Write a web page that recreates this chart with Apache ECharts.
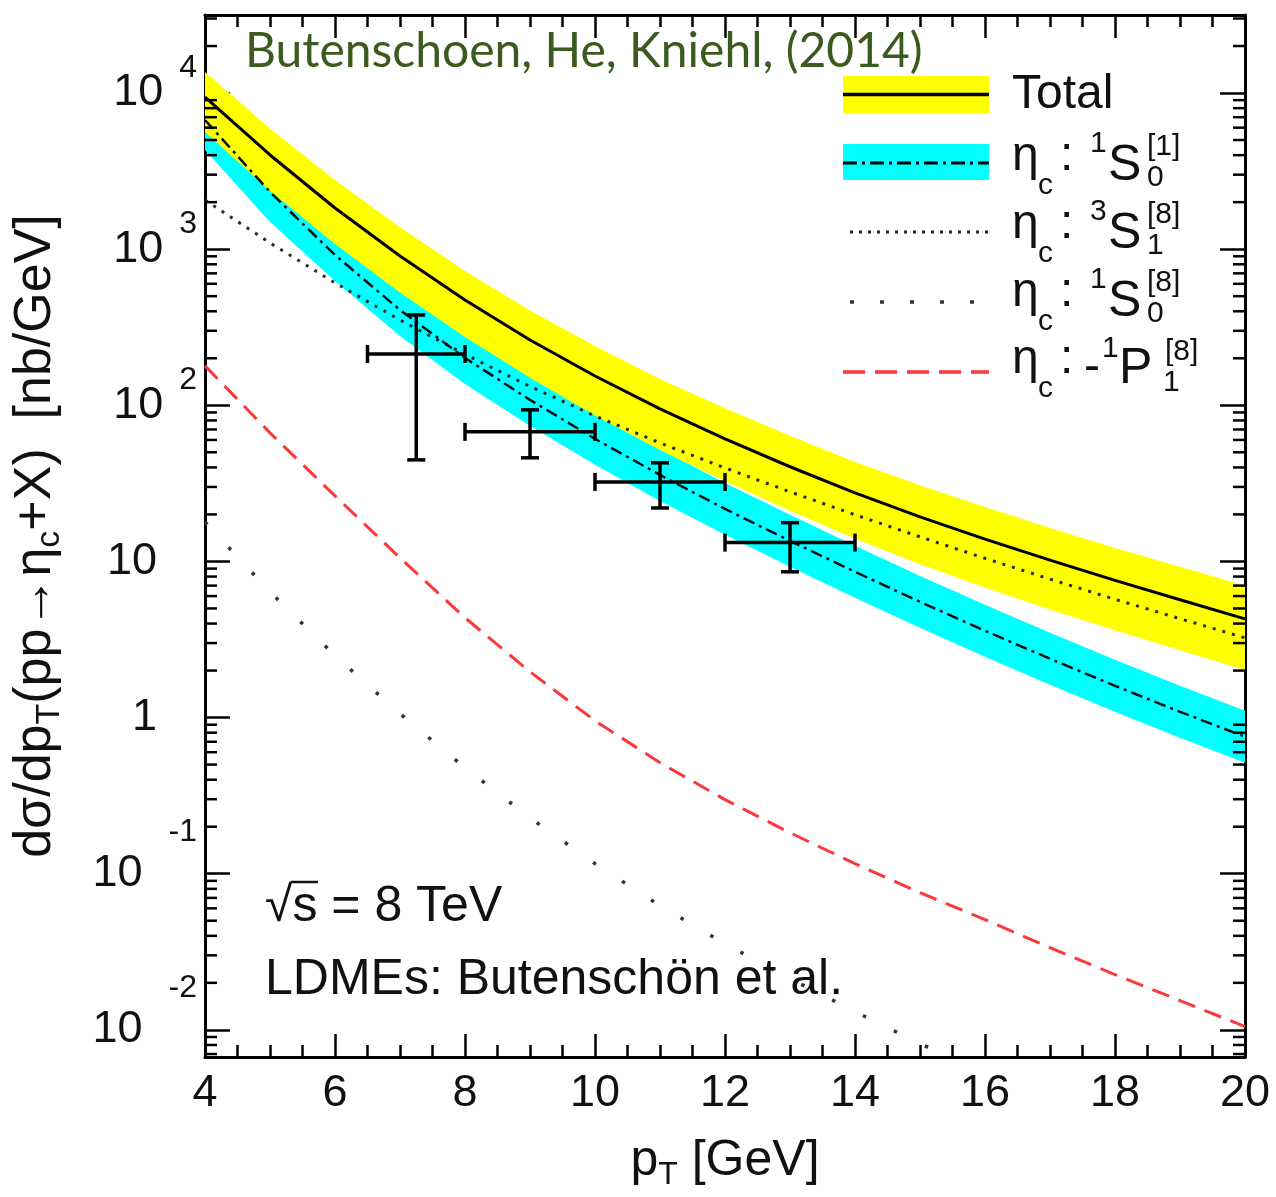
<!DOCTYPE html>
<html>
<head>
<meta charset="utf-8">
<title>eta_c production at 8 TeV</title>
<script src="https://cdn.jsdelivr.net/npm/echarts@6/dist/echarts.min.js"></script>
<style>
  html, body { margin: 0; padding: 0; background: #ffffff; }
  #chart { width: 1276px; height: 1197px; }
</style>
</head>
<body>
<div id="chart"></div>
<script>
// transverse-momentum grid [GeV]
const pT = [4, 5, 6, 7, 8, 9, 10, 11, 12, 13, 14, 15, 16, 17, 18, 19, 20];

// total NRQCD prediction and its uncertainty band [nb/GeV]
const totalCentral = [9420, 4010, 1835, 905, 473, 262, 154, 94.8, 61.0, 40.4, 27.5, 19.3, 13.9, 10.2, 7.57, 5.68, 4.29];
const totalUpper   = [13610, 5930, 2770, 1380, 725, 405, 240, 147.5, 95.6, 63.8, 43.4, 30.7, 22.3, 16.35, 12.2, 9.24, 6.98];
const totalLower   = [5620, 2370, 1080, 528, 274, 150, 86.1, 51.8, 32.6, 21.1, 14.0, 9.58, 6.80, 4.92, 3.62, 2.70, 2.02];

// colour-singlet 1S0[1] channel and its band
const singletCentral = [6714, 2323, 918, 408, 201, 108.3, 61.0, 35.8, 21.7, 13.55, 8.58, 5.51, 3.595, 2.38, 1.598, 1.089, 0.754];
const singletUpper   = [9850, 3410, 1347, 598, 295, 158.9, 89.5, 52.5, 31.8, 19.9, 12.59, 8.08, 5.27, 3.49, 2.344, 1.598, 1.106];
const singletLower   = [4317, 1494, 626, 278, 137, 73.9, 41.6, 24.4, 14.8, 9.24, 5.85, 3.76, 2.45, 1.62, 1.09, 0.743, 0.514];

// colour-octet channels
const octet3S1    = [2065, 1096, 608, 352, 212, 132.1, 85.5, 57.4, 39.7, 27.9, 19.9, 14.37, 10.47, 7.70, 5.72, 4.30, 3.24];
const octet1S0Pt  = [4, 5, 6, 7, 8, 9, 10, 11, 12, 13, 14, 15, 16];
const octet1S0    = [17.9, 6.39, 2.49, 1.058, 0.477, 0.228, 0.116, 0.0624, 0.0356, 0.0213, 0.0131, 0.00816, 0.00524];
const octet1P1neg = [178.8, 66.6, 26.3, 10.54, 4.36, 1.965, 0.954, 0.514, 0.298, 0.183, 0.116, 0.0756, 0.0508, 0.0336, 0.0226, 0.0154, 0.0105];

// measured points with bin widths and errors
const dataPt     = [7.25, 9, 11, 13];
const dataPtLow  = [6.5, 8, 10, 12];
const dataPtHigh = [8, 10, 12, 14];
const dataValue  = [213, 67.6, 32.3, 13.2];
const dataLow    = [44.7, 46.1, 22.0, 8.58];
const dataHigh   = [379, 93.5, 42.8, 17.7];

// axis ticks
const xTicks = [4, 6, 8, 10, 12, 14, 16, 18, 20];
const yTickValues = [0.01, 0.1, 1, 10, 100, 1000, 10000];
const yTickBase   = ['10', '10', '1', '10', '10', '10', '10'];
const yTickExp    = ['-2', '-1', '', '', '2', '3', '4'];

const yMin = 0.0067, yMax = 31600;
const FONT = '"Liberation Sans", Arial, Helvetica, sans-serif';
const INK = '#111111';

// minor ticks of the log axis: 2..9 x 10^k
const yMinor = [];
for (let k = -3; k <= 4; k++) {
  for (let m = 2; m <= 9; m++) {
    const v = m * Math.pow(10, k);
    if (v > yMin && v < yMax) yMinor.push(v);
  }
}

const chart = echarts.init(document.getElementById('chart'), null, { renderer: 'canvas' });

function band(name, lower, upper, color, z) {
  return {
    type: 'custom', name: name, z: z, silent: true,
    xAxisIndex: 0, yAxisIndex: 0,
    data: pT.map((x, i) => [x, lower[i], upper[i]]),
    encode: { x: 0, y: [1, 2] },
    renderItem: function (params, api) {
      if (params.dataIndex !== 0) return null;
      const up = pT.map((x, i) => api.coord([x, upper[i]]));
      const lo = pT.map((x, i) => api.coord([x, lower[i]])).reverse();
      return { type: 'polygon', shape: { points: up.concat(lo) }, style: { fill: color, stroke: null } };
    }
  };
}

function curve(name, xs, ys, lineStyle, z) {
  return {
    type: 'line', name: name, z: z, silent: true,
    xAxisIndex: 0, yAxisIndex: 0,
    data: ys.map((v, i) => [xs[i], v]),
    symbol: 'none', showSymbol: false, clip: true,
    lineStyle: Object.assign({ cap: 'butt', join: 'round' }, lineStyle)
  };
}

function txt(text, x, y, size, extra) {
  return {
    type: 'text', z: 100, silent: true,
    style: Object.assign({
      text: text, x: x, y: y, font: size + 'px ' + FONT, fill: INK,
      textAlign: 'left', textVerticalAlign: 'middle', align: 'left', verticalAlign: 'middle'
    }, extra || {})
  };
}
function seg(x1, y1, x2, y2, style) {
  return { type: 'line', z: 100, silent: true, shape: { x1: x1, y1: y1, x2: x2, y2: y2 },
    style: Object.assign({ stroke: '#000', lineWidth: 3 }, style) };
}

// legend entries drawn as graphic elements
const legend = [];
legend.push({ type: 'rect', z: 99, silent: true, shape: { x: 843, y: 76, width: 146, height: 37 }, style: { fill: '#ffff00' } });
legend.push(seg(843, 94.5, 989, 94.5, { lineWidth: 3.5 }));
legend.push({ type: 'rect', z: 99, silent: true, shape: { x: 843, y: 144, width: 146, height: 36 }, style: { fill: '#00ffff' } });
legend.push(seg(843, 163, 989, 163, { lineWidth: 3, lineDash: [14, 5, 3, 5] }));
legend.push(seg(850, 232, 989, 232, { lineWidth: 3, stroke: '#222', lineDash: [3, 6] }));
legend.push(seg(850, 302, 989, 302, { lineWidth: 3.5, stroke: '#333', lineDash: [4, 26] }));
legend.push(seg(843, 372, 989, 372, { lineWidth: 3.5, stroke: '#fa3a3a', lineDash: [22, 10] }));

legend.push(txt('Total', 1012, 95, 48));
const stateRows = [
  { yc: 166, pre: '1', L: 'S', spin: '[1]', sub: '0' },
  { yc: 234, pre: '3', L: 'S', spin: '[8]', sub: '1' },
  { yc: 302, pre: '1', L: 'S', spin: '[8]', sub: '0' }
];
stateRows.forEach(function (r) {
  legend.push(txt('\u03b7', 1012, r.yc - 9, 48));
  legend.push(txt('c', 1038, r.yc + 20, 30));
  legend.push(txt(':', 1060, r.yc - 9, 48));
  legend.push(txt(r.pre, 1090, r.yc - 22, 30));
  legend.push(txt(r.L, 1108, r.yc, 50));
  legend.push(txt(r.spin, 1147, r.yc - 19, 30));
  legend.push(txt(r.sub, 1147, r.yc + 12, 30));
});
(function () {
  const yc = 369;
  legend.push(txt('\u03b7', 1012, yc - 9, 48));
  legend.push(txt('c', 1038, yc + 20, 30));
  legend.push(txt(':', 1060, yc - 9, 48));
  legend.push(txt('-', 1084, yc - 1, 48));
  legend.push(txt('1', 1102, yc - 20, 30));
  legend.push(txt('P', 1119, yc, 50));
  legend.push(txt('[8]', 1165, yc - 17, 30));
  legend.push(txt('1', 1163, yc + 14, 30));
})();

// caption texts
legend.push(txt('Butenschoen, He, Kniehl, (2014)', 245, 52, 48, { font: '48px Lato, "Open Sans", sans-serif', fill: '#3b5a1e' }));
legend.push(txt('\u221as = 8 TeV', 265, 907, 50));
legend.push(seg(291, 882, 318, 882, { lineWidth: 2.5, stroke: INK }));
legend.push(txt('LDMEs: Butensch\u00f6n et al.', 265, 980, 50));

const xAxisCommon = {
  type: 'value', min: 4, max: 20, interval: 2,
  axisLine: { show: true, onZero: false, lineStyle: { color: '#000', width: 3 } },
  axisTick: { show: true, inside: true, length: 23, lineStyle: { color: '#000', width: 2.5 } },
  minorTick: { show: true, splitNumber: 4, length: 12, lineStyle: { color: '#000', width: 2.5 } },
  splitLine: { show: false }, minorSplitLine: { show: false }
};
const yAxisCommon = {
  type: 'log', logBase: 10, min: yMin, max: yMax,
  axisLine: { show: true, onZero: false, lineStyle: { color: '#000', width: 3 } },
  axisTick: { show: true, inside: true, length: 25, lineStyle: { color: '#000', width: 2.5 } },
  splitLine: { show: false }
};

const option = {
  animation: false,
  backgroundColor: '#ffffff',
  grid: { left: 205, top: 15, width: 1040, height: 1042, containLabel: false, outerBoundsMode: 'none' },
  xAxis: [
    Object.assign({}, xAxisCommon, {
      position: 'bottom',
      name: '{a|p}{s|T}{a| [GeV]}', nameLocation: 'middle', nameGap: 74,
      nameTextStyle: {
        rich: {
          a: { fontSize: 50, fontFamily: FONT, color: INK, verticalAlign: 'middle' },
          s: { fontSize: 32, fontFamily: FONT, color: INK, padding: [28, 0, 0, 0], verticalAlign: 'middle' }
        }
      },
      axisLabel: {
        show: true, margin: 14, fontSize: 45, fontFamily: FONT, color: INK,
        formatter: function (v) { return xTicks.indexOf(v) >= 0 ? String(v) : ''; }
      }
    }),
    Object.assign({}, xAxisCommon, { position: 'top', axisLabel: { show: false } })
  ],
  yAxis: [
    Object.assign({}, yAxisCommon, {
      position: 'left',
      name: '{a|d\u03c3/dp}{s|T}{a|(pp\u2192\u03b7}{s|c}{a|+X)  [nb/GeV]}',
      nameLocation: 'middle', nameGap: 138,
      nameTextStyle: {
        rich: {
          a: { fontSize: 52, fontFamily: FONT, color: INK, verticalAlign: 'middle' },
          s: { fontSize: 34, fontFamily: FONT, color: INK, padding: [28, 0, 0, 0], verticalAlign: 'middle' }
        }
      },
      axisLabel: {
        show: true, margin: 8,
        formatter: function (v) {
          const i = yTickValues.findIndex(t => Math.abs(Math.log10(v) - Math.log10(t)) < 1e-6);
          if (i < 0) return '';
          const e = yTickExp[i];
          if (!e) return '{b|' + yTickBase[i] + '}{e| }';
          return '{b|' + yTickBase[i] + '}{' + (e.charAt(0) === '-' ? 'n' : 'p') + '|' + e + '}';
        },
        rich: {
          b: { fontSize: 45, fontFamily: FONT, color: INK, verticalAlign: 'middle' },
          p: { fontSize: 32, fontFamily: FONT, color: INK, padding: [0, 0, 50, 16], verticalAlign: 'middle' },
          n: { fontSize: 32, fontFamily: FONT, color: INK, padding: [0, 0, 84, 26], verticalAlign: 'middle' },
          e: { fontSize: 32, fontFamily: FONT, width: 40, verticalAlign: 'middle' }
        }
      }
    }),
    Object.assign({}, yAxisCommon, { position: 'right', axisLabel: { show: false } })
  ],
  graphic: { elements: legend },
  series: [
    band('1S0[1] band', singletLower, singletUpper, '#00ffff', 1),
    band('total band', totalLower, totalUpper, '#ffff00', 2),
    curve('-1P1[8]', pT, octet1P1neg, { color: '#fa3a3a', width: 3, type: [18, 10] }, 5),
    curve('1S0[8]', octet1S0Pt, octet1S0, { color: '#333333', width: 3.5, type: [3.5, 31] }, 5),
    curve('3S1[8]', pT, octet3S1, { color: '#2a2a2a', width: 3, type: [3, 7] }, 6),
    curve('1S0[1]', pT, singletCentral, { color: '#111111', width: 2.5, type: [12, 5, 3, 5] }, 7),
    curve('Total', pT, totalCentral, { color: '#000000', width: 3, type: 'solid' }, 8),
    {
      type: 'custom', name: 'data', z: 10, silent: true,
      xAxisIndex: 0, yAxisIndex: 0,
      data: dataPt.map((x, i) => [x, dataValue[i], dataPtLow[i], dataPtHigh[i], dataLow[i], dataHigh[i]]),
      encode: { x: 0, y: 1 },
      renderItem: function (params, api) {
        const x = api.value(0), y = api.value(1);
        const l = api.coord([api.value(2), y]), r = api.coord([api.value(3), y]);
        const b = api.coord([x, api.value(4)]), t = api.coord([x, api.value(5)]);
        const st = { stroke: '#000', lineWidth: 3.5 };
        const capH = 9, capV = 9;
        const ln = (x1, y1, x2, y2) => ({ type: 'line', shape: { x1: x1, y1: y1, x2: x2, y2: y2 }, style: st });
        return { type: 'group', children: [
          ln(l[0], l[1], r[0], r[1]),
          ln(b[0], b[1], t[0], t[1]),
          ln(l[0], l[1] - capH, l[0], l[1] + capH),
          ln(r[0], r[1] - capH, r[0], r[1] + capH),
          ln(t[0] - capV, t[1], t[0] + capV, t[1]),
          ln(b[0] - capV, b[1], b[0] + capV, b[1])
        ] };
      }
    },
    {
      type: 'custom', name: 'minor ticks', z: 20, silent: true,
      xAxisIndex: 0, yAxisIndex: 0,
      data: yMinor.map(v => [4, v]),
      encode: { x: 0, y: 1 },
      renderItem: function (params, api) {
        const v = api.value(1);
        const p = api.coord([4, v]), q = api.coord([20, v]);
        const st = { stroke: '#000', lineWidth: 2.5 };
        return { type: 'group', children: [
          { type: 'line', shape: { x1: p[0], y1: p[1], x2: p[0] + 12, y2: p[1] }, style: st },
          { type: 'line', shape: { x1: q[0] - 12, y1: q[1], x2: q[0], y2: q[1] }, style: st }
        ] };
      }
    }
  ]
};

chart.setOption(option);
</script>
</body>
</html>
